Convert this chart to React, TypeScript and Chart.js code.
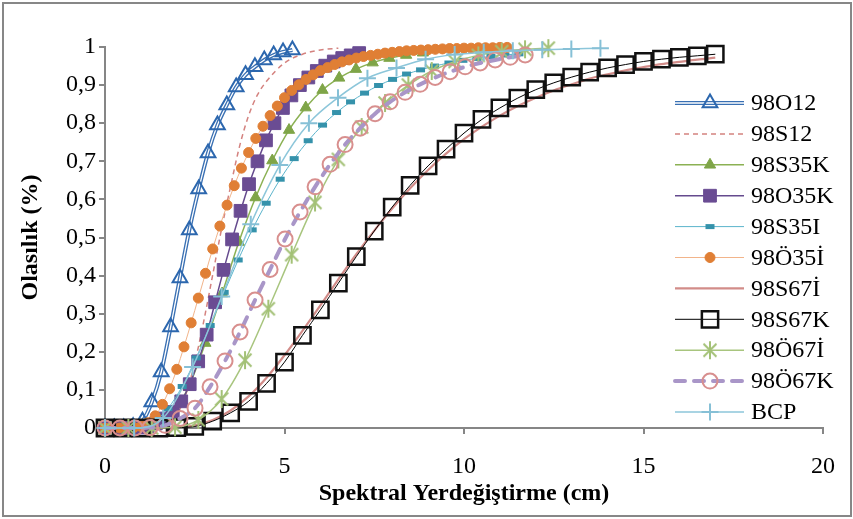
import React, { useEffect, useRef } from 'react';
import { Chart, registerables } from 'chart.js';
import { drawPoint } from 'chart.js/helpers';

Chart.register(...registerables);

const SERIF = '"Liberation Serif", "Times New Roman", serif';

// Spectral displacement (cm) and probability of exceedance for each class
const X_O12 = [0, 0.261, 0.522, 0.783, 1.044, 1.305, 1.566, 1.827, 2.088, 2.349, 2.61, 2.871, 3.132, 3.393, 3.654, 3.915, 4.176, 4.437, 4.698, 4.959, 5.22];
const P_O12 = [0, 0, 0, 0.003, 0.018, 0.068, 0.147, 0.265, 0.394, 0.52, 0.627, 0.722, 0.795, 0.848, 0.895, 0.927, 0.948, 0.966, 0.979, 0.987, 0.992];

const X_S12 = [0, 0.5, 1, 1.5, 2, 2.25, 2.5, 2.75, 3, 3.25, 3.5, 3.75, 4, 4.25, 4.5, 5, 5.5, 6, 6.5];
const P_S12 = [0, 0, 0, 0.002, 0.035, 0.088, 0.171, 0.28, 0.402, 0.524, 0.635, 0.74, 0.82, 0.875, 0.91, 0.958, 0.981, 0.992, 0.997];

const X_S35K = [0, 0.466, 0.932, 1.398, 1.864, 2.33, 2.796, 3.262, 3.728, 4.194, 4.66, 5.126, 5.592, 6.058, 6.524, 6.99, 7.456, 7.922, 8.388, 8.854];
const P_S35K = [0, 0, 0, 0.005, 0.035, 0.108, 0.223, 0.353, 0.488, 0.605, 0.702, 0.782, 0.841, 0.887, 0.919, 0.942, 0.959, 0.971, 0.979, 0.985];

const X_O35K = [0, 0.236, 0.472, 0.708, 0.944, 1.18, 1.416, 1.652, 1.888, 2.124, 2.36, 2.596, 2.832, 3.068, 3.304, 3.54, 3.776, 4.012, 4.248, 4.484, 4.72, 4.956, 5.192, 5.428, 5.664, 5.9, 6.136, 6.372, 6.608, 6.844, 7.08];
const P_O35K = [0, 0, 0, 0, 0.001, 0.005, 0.012, 0.025, 0.042, 0.07, 0.115, 0.175, 0.245, 0.33, 0.415, 0.495, 0.57, 0.64, 0.7, 0.755, 0.8, 0.84, 0.873, 0.9, 0.92, 0.937, 0.951, 0.962, 0.971, 0.978, 0.984];

const X_S35I = [0.19, 0.58, 0.97, 1.36, 1.75, 2.15, 2.54, 2.93, 3.32, 3.71, 4.1, 4.49, 4.88, 5.27, 5.66, 6.06, 6.45, 6.84, 7.23, 7.62, 8.01, 8.4, 8.79, 9.18, 9.58, 9.97, 10.36, 10.75, 11.14, 11.53];
const P_S35I = [0, 0, 0.003, 0.016, 0.051, 0.109, 0.184, 0.269, 0.356, 0.441, 0.52, 0.59, 0.653, 0.707, 0.754, 0.795, 0.828, 0.856, 0.879, 0.899, 0.915, 0.929, 0.94, 0.95, 0.958, 0.965, 0.97, 0.975, 0.979, 0.982];

const X_O35I = [0, 0.2, 0.4, 0.6, 0.8, 1, 1.2, 1.4, 1.6, 1.8, 2, 2.2, 2.4, 2.6, 2.8, 3, 3.2, 3.4, 3.6, 3.8, 4, 4.2, 4.4, 4.6, 4.8, 5, 5.2, 5.4, 5.6, 5.8, 6, 6.2, 6.4, 6.6, 6.8, 7, 7.2, 7.4, 7.6, 7.8, 8, 8.2, 8.4, 8.6, 8.8, 9, 9.2, 9.4, 9.6, 9.8, 10, 10.2, 10.4, 10.6, 10.8, 11, 11.2];
const P_O35I = [0, 0, 0, 0, 0.001, 0.004, 0.014, 0.032, 0.062, 0.103, 0.154, 0.213, 0.276, 0.341, 0.406, 0.47, 0.53, 0.585, 0.636, 0.682, 0.723, 0.76, 0.792, 0.82, 0.845, 0.867, 0.886, 0.901, 0.915, 0.927, 0.938, 0.946, 0.954, 0.961, 0.966, 0.971, 0.975, 0.978, 0.981, 0.984, 0.986, 0.988, 0.99, 0.991, 0.992, 0.993, 0.994, 0.995, 0.996, 0.996, 0.997, 0.997, 0.998, 0.998, 0.998, 0.999, 0.999];

const X_S67 = [0, 0.5, 1, 1.5, 2, 2.5, 3, 3.5, 4, 4.5, 5, 5.5, 6, 6.5, 7, 7.5, 8, 8.5, 9, 9.5, 10, 10.5, 11, 11.5, 12, 12.5, 13, 13.5, 14, 14.5, 15, 15.5, 16, 16.5, 17];
const P_S67I = [0, 0, 0, 0, 0.002, 0.007, 0.021, 0.046, 0.083, 0.132, 0.191, 0.255, 0.322, 0.39, 0.456, 0.518, 0.576, 0.629, 0.677, 0.72, 0.758, 0.791, 0.82, 0.845, 0.867, 0.886, 0.902, 0.917, 0.928, 0.939, 0.947, 0.955, 0.961, 0.967, 0.972];
const P_S67K = [0, 0, 0, 0, 0.001, 0.004, 0.018, 0.04, 0.07, 0.117, 0.173, 0.243, 0.31, 0.38, 0.45, 0.517, 0.58, 0.637, 0.688, 0.732, 0.774, 0.81, 0.84, 0.866, 0.888, 0.906, 0.921, 0.934, 0.945, 0.954, 0.962, 0.968, 0.973, 0.977, 0.981];

const X_O67I = [0, 0.65, 1.3, 1.95, 2.6, 3.25, 3.9, 4.55, 5.2, 5.85, 6.5, 7.15, 7.8, 8.45, 9.1, 9.75, 10.4, 11.05, 11.7, 12.35];
const P_O67I = [0, 0, 0, 0.002, 0.021, 0.076, 0.178, 0.313, 0.455, 0.592, 0.705, 0.79, 0.853, 0.9, 0.937, 0.962, 0.978, 0.988, 0.994, 0.997];

const X_O67K = [0, 0.418, 0.836, 1.254, 1.672, 2.09, 2.508, 2.926, 3.344, 3.762, 4.18, 4.598, 5.016, 5.434, 5.852, 6.27, 6.688, 7.106, 7.524, 7.942, 8.36, 8.778, 9.196, 9.614, 10.032, 10.45, 10.868, 11.286, 11.704];
const P_O67K = [0, 0, 0, 0.001, 0.007, 0.025, 0.052, 0.108, 0.176, 0.252, 0.336, 0.416, 0.496, 0.567, 0.633, 0.692, 0.744, 0.787, 0.825, 0.856, 0.881, 0.902, 0.92, 0.935, 0.948, 0.958, 0.966, 0.973, 0.979];

const X_BCP = [0, 0.81, 1.62, 2.44, 3.25, 4.06, 4.87, 5.68, 6.49, 7.31, 8.12, 8.93, 9.74, 10.55, 11.36, 12.18, 12.99, 13.8];
const P_BCP = [0, 0, 0.026, 0.16, 0.345, 0.535, 0.69, 0.8, 0.867, 0.918, 0.945, 0.968, 0.98, 0.986, 0.99, 0.993, 0.995, 0.997];

const X_TICKS = { min: 0, max: 20, step: 5 };
const Y_TICKS = { min: 0, max: 1, step: 0.1 };
const X_TITLE = 'Spektral Yerdeğiştirme (cm)';
const Y_TITLE = 'Olasılık (%)';

type Marker = { style: any; radius: number; fill: string; stroke: string; width: number };
type Series = {
  label: string;
  xs: number[];
  ys: number[];
  color: string;
  width: number;
  dash?: number[];
  cap?: CanvasLineCap;
  double?: boolean;
  marker?: Marker;
};

// Excel-style "*" marker: an X with a vertical bar
function asteriskMarker(color: string, size: number, lw: number) {
  const c = document.createElement('canvas');
  c.width = size;
  c.height = size;
  const g = c.getContext('2d')!;
  g.strokeStyle = color;
  g.lineWidth = lw;
  const m = size / 2;
  const r = size / 2 - 1;
  const d = r * 0.72;
  g.beginPath();
  g.moveTo(m, m - r);
  g.lineTo(m, m + r);
  g.moveTo(m - d, m - d);
  g.lineTo(m + d, m + d);
  g.moveTo(m + d, m - d);
  g.lineTo(m - d, m + d);
  g.stroke();
  return c;
}

const NONE = 'rgba(0,0,0,0)';

function buildSeries(): Series[] {
  return [
    { label: '98O12', xs: X_O12, ys: P_O12, color: '#3A70B3', width: 4, double: true,
      marker: { style: 'triangle', radius: 8.5, fill: NONE, stroke: '#2C67AE', width: 2 } },
    { label: '98S12', xs: X_S12, ys: P_S12, color: '#D4827F', width: 1.5, dash: [5, 4] },
    { label: '98S35K', xs: X_S35K, ys: P_S35K, color: '#8BB153', width: 1.5,
      marker: { style: 'triangle', radius: 6.5, fill: '#7FA548', stroke: '#7FA548', width: 1 } },
    { label: '98O35K', xs: X_O35K, ys: P_O35K, color: '#654A8E', width: 1.5,
      marker: { style: 'rect', radius: 9, fill: '#6A4C93', stroke: '#6A4C93', width: 1 } },
    { label: '98S35I', xs: X_S35I, ys: P_S35I, color: '#5BB4CC', width: 1,
      marker: { style: 'line', radius: 4.5, fill: NONE, stroke: '#3592AB', width: 5 } },
    { label: '98Ö35İ', xs: X_O35I, ys: P_O35I, color: '#F2B48A', width: 1,
      marker: { style: 'circle', radius: 5, fill: '#E07F35', stroke: '#E07F35', width: 1 } },
    { label: '98S67İ', xs: X_S67, ys: P_S67I, color: '#D28C89', width: 2.2 },
    { label: '98S67K', xs: X_S67, ys: P_S67K, color: '#000000', width: 1,
      marker: { style: 'rect', radius: 11.5, fill: NONE, stroke: '#111111', width: 2.5 } },
    { label: '98Ö67İ', xs: X_O67I, ys: P_O67I, color: '#A8C57E', width: 1.5,
      marker: { style: asteriskMarker('#A3C176', 20, 2), radius: 9, fill: NONE, stroke: '#A3C176', width: 2 } },
    { label: '98Ö67K', xs: X_O67K, ys: P_O67K, color: '#A996C8', width: 4, dash: [10, 9], cap: 'round',
      marker: { style: 'circle', radius: 7.5, fill: NONE, stroke: '#D88F8E', width: 2 } },
    { label: 'BCP', xs: X_BCP, ys: P_BCP, color: '#8CC6DA', width: 1.5,
      marker: { style: 'cross', radius: 8.5, fill: NONE, stroke: '#86C0D6', width: 2 } },
  ];
}

function buildDatasets(series: Series[]) {
  const out: any[] = [];
  let order = 1000;
  for (const s of series) {
    const data = s.xs.map((x, i) => ({ x, y: s.ys[i] }));
    const line = {
      label: s.label,
      data,
      borderColor: s.color,
      borderWidth: s.width,
      borderDash: s.dash || [],
      borderCapStyle: s.cap || 'butt',
      fill: false,
      cubicInterpolationMode: 'monotone',
      pointRadius: 0,
      pointHoverRadius: 0,
      clip: false,
    };
    const m = s.marker;
    const markerOpts = m
      ? {
          pointStyle: m.style,
          pointRadius: m.radius,
          pointHoverRadius: m.radius,
          pointBackgroundColor: m.fill,
          pointBorderColor: m.stroke,
          pointBorderWidth: m.width,
        }
      : {};
    if (s.double) {
      // compound line: wide coloured stroke with a thin white core, markers on top
      out.push({ ...line, order: order-- });
      out.push({ ...line, label: s.label + ' inner', borderColor: '#ffffff', borderWidth: 1.3, order: order-- });
      out.push({ ...line, ...markerOpts, showLine: false, order: order-- });
    } else {
      out.push({ ...line, ...markerOpts, order: order-- });
    }
  }
  return out;
}

const LEGEND = { lineFrom: 675, lineTo: 744, markerX: 710, textX: 751, top: 103, step: 30.9 };

function makeLegendPlugin(series: Series[]) {
  return {
    id: 'seriesLegend',
    afterDraw(chart: any) {
      const ctx: CanvasRenderingContext2D = chart.ctx;
      ctx.save();
      series.forEach((s, i) => {
        const y = LEGEND.top + i * LEGEND.step;
        ctx.beginPath();
        ctx.setLineDash(s.dash || []);
        ctx.lineCap = s.cap || 'butt';
        ctx.strokeStyle = s.color;
        ctx.lineWidth = s.width;
        ctx.moveTo(LEGEND.lineFrom, y);
        ctx.lineTo(LEGEND.lineTo, y);
        ctx.stroke();
        if (s.double) {
          ctx.beginPath();
          ctx.strokeStyle = '#ffffff';
          ctx.lineWidth = 1.3;
          ctx.moveTo(LEGEND.lineFrom, y);
          ctx.lineTo(LEGEND.lineTo, y);
          ctx.stroke();
        }
        ctx.setLineDash([]);
        ctx.lineCap = 'butt';
        if (s.marker) {
          const m = s.marker;
          ctx.fillStyle = m.fill;
          ctx.strokeStyle = m.stroke;
          ctx.lineWidth = m.width;
          drawPoint(ctx, { pointStyle: m.style, radius: m.radius, borderWidth: m.width, rotation: 0 } as any, LEGEND.markerX, y);
        }
        ctx.fillStyle = '#000000';
        ctx.font = `24px ${SERIF}`;
        ctx.textAlign = 'left';
        ctx.textBaseline = 'middle';
        ctx.fillText(s.label, LEGEND.textX, y + 1);
      });
      ctx.restore();
    },
  };
}

const framePlugin = {
  id: 'frame',
  beforeDraw(chart: any) {
    const ctx: CanvasRenderingContext2D = chart.ctx;
    ctx.save();
    ctx.fillStyle = '#ffffff';
    ctx.fillRect(0, 0, chart.width, chart.height);
    ctx.strokeStyle = '#878787';
    ctx.lineWidth = 2;
    ctx.strokeRect(3, 3, chart.width - 5, chart.height - 6);
    ctx.restore();
  },
};

function fmtY(v: number) {
  if (Math.abs(v) < 1e-9) return '0';
  if (Math.abs(v - 1) < 1e-9) return '1';
  return v.toFixed(1).replace('.', ',');
}

export default function App() {
  const ref = useRef<HTMLCanvasElement>(null);

  useEffect(() => {
    document.body.style.margin = '0';
    const series = buildSeries();
    const axisColor = '#868686';
    const chart = new Chart(ref.current as HTMLCanvasElement, {
      type: 'line',
      data: { datasets: buildDatasets(series) },
      plugins: [framePlugin, makeLegendPlugin(series)],
      options: {
        responsive: false,
        animation: false,
        events: [],
        layout: { padding: { left: 0, top: 47, right: 28, bottom: 0 } },
        plugins: { legend: { display: false }, tooltip: { enabled: false } },
        scales: {
          x: {
            type: 'linear',
            min: X_TICKS.min,
            max: X_TICKS.max,
            ticks: { stepSize: X_TICKS.step, color: '#000', padding: 18, font: { family: SERIF, size: 24 } },
            grid: { drawOnChartArea: false, drawTicks: true, tickLength: 6, color: axisColor, lineWidth: 2 },
            border: { display: true, color: axisColor, width: 2 },
            title: {
              display: true,
              text: X_TITLE,
              color: '#000',
              font: { family: SERIF, size: 24, weight: 'bold' },
              padding: { top: 0, bottom: 11 },
            },
            afterFit: (s: any) => {
              s.height = 91;
            },
          } as any,
          y: {
            type: 'linear',
            min: Y_TICKS.min,
            max: Y_TICKS.max,
            ticks: { stepSize: Y_TICKS.step, color: '#000', padding: 3, font: { family: SERIF, size: 24 }, callback: (v: any) => fmtY(Number(v)) },
            grid: { drawOnChartArea: false, drawTicks: true, tickLength: 6, color: axisColor, lineWidth: 2 },
            border: { display: true, color: axisColor, width: 2 },
            title: {
              display: true,
              text: Y_TITLE,
              color: '#000',
              font: { family: SERIF, size: 24, weight: 'bold' },
              padding: { top: 16, bottom: 0 },
            },
            afterFit: (s: any) => {
              s.width = 105;
            },
          } as any,
        },
      },
    });
    return () => chart.destroy();
  }, []);

  return (
    <div style={{ width: 853, height: 519 }}>
      <canvas ref={ref} width={853} height={519} style={{ display: 'block' }} />
    </div>
  );
}
